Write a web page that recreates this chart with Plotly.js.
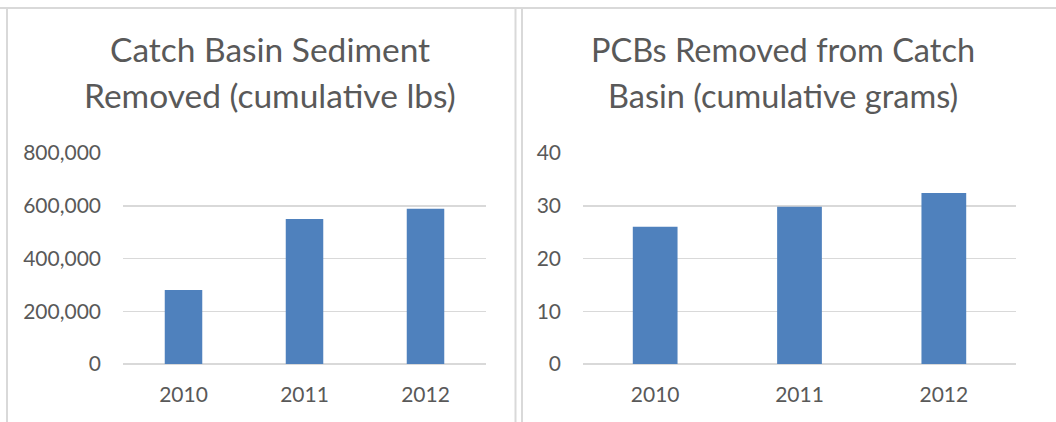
<!DOCTYPE html>
<html>
<head>
<meta charset="utf-8">
<script src="https://cdn.plot.ly/plotly-3.0.1.min.js"></script>
<style>
html,body{margin:0;padding:0;background:#fff;}
#chart{width:1056px;height:422px;}
</style>
</head>
<body>
<div id="chart"></div>
<script>
const years = ["2010", "2011", "2012"];
const sedimentLbs = [281000, 550000, 589000];
const pcbGrams = [26.0, 29.8, 32.4];
const sedimentTicks = [0, 200000, 400000, 600000, 800000];
const pcbTicks = [0, 10, 20, 30, 40];
const titleLeftLines = ["Catch Basin Sediment", "Removed (cumulative lbs)"];
const titleRightLines = ["PCBs Removed from Catch", "Basin (cumulative grams)"];

const W = 1056, H = 422;
const px = v => v / W;
const py = v => 1 - v / H;

const barColor = "#4F81BD";
const textColor = "#595959";
const gridColor = "#D9D9D9";
const fontFam = "Lato, 'Open Sans', sans-serif";

const data = [
  {type: "bar", x: years, y: sedimentLbs, xaxis: "x", yaxis: "y",
   marker: {color: barColor}, hoverinfo: "none"},
  {type: "bar", x: years, y: pcbGrams, xaxis: "x2", yaxis: "y2",
   marker: {color: barColor}, hoverinfo: "none"}
];

const yDomain = [py(364), py(153)];
const xAx = {
  type: "category", showgrid: false, zeroline: false, showline: false,
  ticks: "", tickfont: {family: fontFam, size: 21, color: textColor},
  ticklabelstandoff: 16, fixedrange: true
};
const yAx = {
  showgrid: true, gridcolor: gridColor, gridwidth: 1.5,
  zeroline: true, zerolinecolor: gridColor, zerolinewidth: 1.5,
  showline: false, ticks: "", tickfont: {family: fontFam, size: 21, color: textColor},
  ticklabelstandoff: 21, fixedrange: true, domain: yDomain
};

function titleAnn(text, xc, yc, size) {
  return {text: text, xref: "paper", yref: "paper", x: px(xc), y: py(yc),
    xanchor: "center", yanchor: "middle", showarrow: false,
    font: {family: fontFam, size: size, color: textColor}};
}

const layout = {
  width: W, height: H,
  margin: {l: 0, r: 0, t: 0, b: 0},
  paper_bgcolor: "#fff", plot_bgcolor: "rgba(0,0,0,0)",
  showlegend: false, bargap: 0.69,
  xaxis: Object.assign({}, xAx, {domain: [px(123), px(486)], anchor: "y"}),
  yaxis: Object.assign({}, yAx, {range: [0, 800000], tickvals: sedimentTicks, tickformat: ",", anchor: "x"}),
  xaxis2: Object.assign({}, xAx, {domain: [px(583), px(1016)], anchor: "y2"}),
  yaxis2: Object.assign({}, yAx, {range: [0, 40], tickvals: pcbTicks, anchor: "x2"}),
  annotations: [
    titleAnn(titleLeftLines[0], 270, 49, 33.5),
    titleAnn(titleLeftLines[1], 270, 95, 33.5),
    titleAnn(titleRightLines[0], 783, 49, 32.5),
    titleAnn(titleRightLines[1], 783, 95, 32.5)
  ],
  shapes: [
    {type: "line", xref: "paper", yref: "paper", x0: 0, x1: 1, y0: py(8), y1: py(8), line: {color: gridColor, width: 2}},
    {type: "line", xref: "paper", yref: "paper", x0: px(7), x1: px(7), y0: py(8), y1: 0, line: {color: gridColor, width: 2}},
    {type: "line", xref: "paper", yref: "paper", x0: px(515.5), x1: px(515.5), y0: py(8), y1: 0, line: {color: gridColor, width: 2}},
    {type: "line", xref: "paper", yref: "paper", x0: px(522), x1: px(522), y0: py(8), y1: 0, line: {color: gridColor, width: 2}}
  ]
};

Plotly.newPlot("chart", data, layout, {displayModeBar: false, staticPlot: true});
</script>
</body>
</html>
